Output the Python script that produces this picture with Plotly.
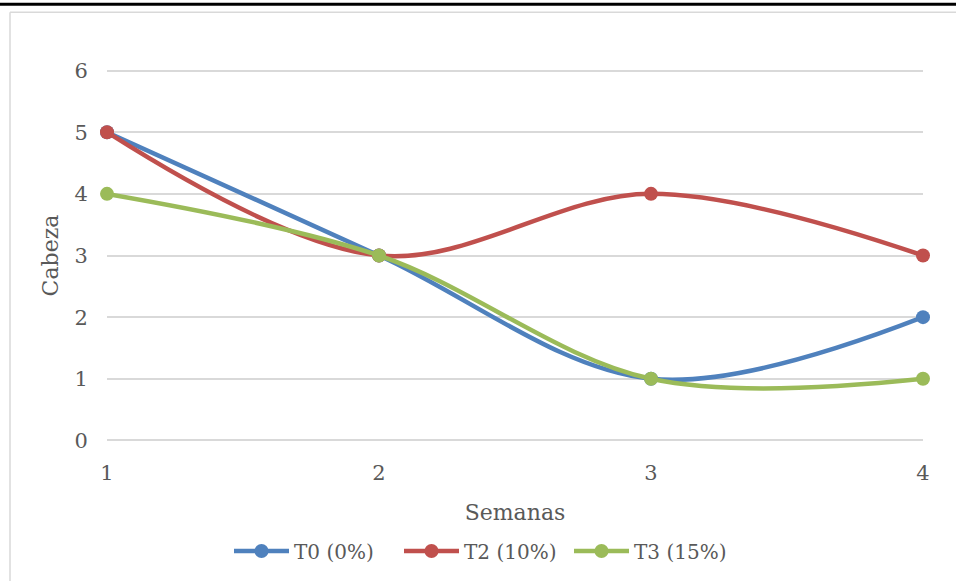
import plotly.graph_objects as go

semanas = [1, 2, 3, 4]
t0 = [5, 3, 1, 2]
t2 = [5, 3, 4, 3]
t3 = [4, 3, 1, 1]
names = ["T0 (0%)", "T2 (10%)", "T3 (15%)"]
colors = ["#4F81BD", "#C0504D", "#9BBB59"]

FONT = "DejaVu Serif"
TXT = "#595959"

fig = go.Figure()
for name, vals, col in zip(names, [t0, t2, t3], colors):
    fig.add_trace(go.Scatter(
        x=semanas, y=vals, name=name, mode="lines+markers",
        line=dict(color=col, width=4.5, shape="spline", smoothing=1),
        marker=dict(color=col, size=14),
        cliponaxis=False,
    ))

W, H = 956, 581
L, R, T, B = 107, 956 - 923, 69, 138
pw, ph = W - L - R, H - T - B

def px(xs):
    return (xs - L) / pw

def py(ys):
    return (H - B - ys) / ph

shapes = [
    dict(type="line", xref="paper", yref="paper", x0=px(-5), x1=px(970), y0=py(4), y1=py(4),
         line=dict(color="black", width=3)),
    dict(type="line", xref="paper", yref="paper", x0=px(10), x1=px(970), y0=py(12), y1=py(12),
         line=dict(color="#D9D9D9", width=1.5)),
    dict(type="line", xref="paper", yref="paper", x0=px(10), x1=px(10), y0=py(12), y1=py(600),
         line=dict(color="#D9D9D9", width=1.5)),
]

fig.update_layout(
    width=W, height=H,
    margin=dict(l=L, r=R, t=T, b=B),
    paper_bgcolor="white", plot_bgcolor="white",
    font=dict(family=FONT, color=TXT, size=20),
    showlegend=True,
    legend=dict(orientation="h", x=px(484), xanchor="center", y=py(551), yanchor="middle",
                font=dict(size=20, color=TXT), itemwidth=55, traceorder="normal",
                entrywidth=100, entrywidthmode="pixels"),
    shapes=shapes,
    xaxis=dict(range=[1, 4], tickvals=semanas, showgrid=False, zeroline=False, showline=False,
               ticks="outside", ticklen=12, tickcolor="rgba(0,0,0,0)",
               tickfont=dict(size=21, color=TXT),
               title=dict(text="Semanas", font=dict(size=22, color=TXT), standoff=20)),
    yaxis=dict(range=[-0.025, 6.025], tickvals=[0, 1, 2, 3, 4, 5, 6],
               showgrid=True, gridcolor="#D9D9D9", gridwidth=1.5,
               zeroline=False, showline=False,
               ticks="outside", ticklen=14, tickcolor="rgba(0,0,0,0)",
               tickfont=dict(size=21, color=TXT),
               title=dict(text="Cabeza", font=dict(size=22, color=TXT), standoff=9)),
)

fig.write_html(
    "out.html",
    config={"displayModeBar": False},
    post_script="document.body.style.margin='0';document.body.style.overflow='hidden';",
)
